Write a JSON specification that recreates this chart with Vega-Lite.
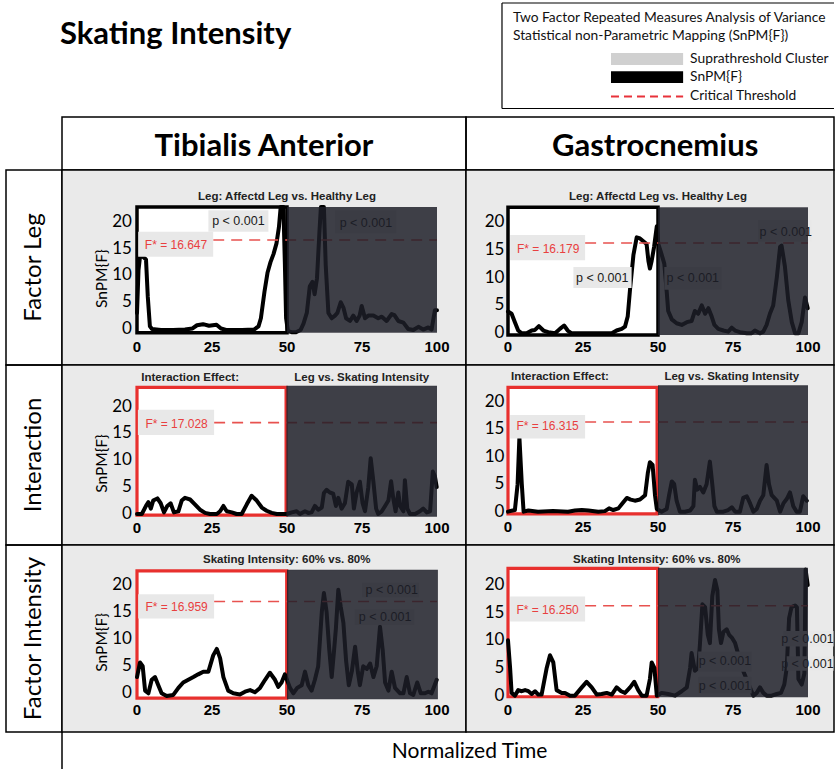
{
  "$schema": "https://vega.github.io/schema/vega-lite/v6.json",
  "padding": 0,
  "background": "#ffffff",
  "config": {"view": {"stroke": null}, "text": {"font": "Lato"}},
  "datasets": {
    "tx": [{"v":0,"t":"0"},{"v":25,"t":"25"},{"v":50,"t":"50"},{"v":75,"t":"75"},{"v":100,"t":"100"}],
    "ty": [{"v":0,"t":"0"},{"v":5,"t":"5"},{"v":10,"t":"10"},{"v":15,"t":"15"},{"v":20,"t":"20"}],
    "c1": [{"x":0,"y":3},{"x":0.5,"y":11},{"x":1,"y":13.5},{"x":2,"y":13.5},{"x":3,"y":13},{"x":3.6,"y":6},{"x":4.3,"y":0.5},{"x":5,"y":0},{"x":8,"y":-0.2},{"x":12,"y":-0.2},{"x":16,"y":-0.1},{"x":18.5,"y":0.1},{"x":20,"y":0.7},{"x":22,"y":0.9},{"x":24,"y":0.6},{"x":26.5,"y":0.8},{"x":28,"y":0.1},{"x":30,"y":-0.2},{"x":35,"y":-0.2},{"x":39,"y":-0.1},{"x":40.5,"y":0.5},{"x":41.3,"y":2},{"x":42.5,"y":7},{"x":43.5,"y":10.5},{"x":44.5,"y":12.5},{"x":45.5,"y":14},{"x":46.5,"y":16},{"x":47.3,"y":19},{"x":47.9,"y":22.8},{"x":48.8,"y":22.8},{"x":49.3,"y":12},{"x":49.7,"y":2},{"x":50.3,"y":-0.4},{"x":51.5,"y":-0.6},{"x":53,"y":-0.6},{"x":54.5,"y":-0.2},{"x":55.5,"y":1},{"x":56.6,"y":3},{"x":57.6,"y":8},{"x":58.5,"y":8.8},{"x":59.2,"y":6.5},{"x":60,"y":9.5},{"x":60.8,"y":18},{"x":61.3,"y":22.8},{"x":62.3,"y":22.8},{"x":62.9,"y":12},{"x":63.8,"y":3},{"x":64.9,"y":2},{"x":66,"y":2.5},{"x":66.8,"y":3},{"x":67.9,"y":5},{"x":68.8,"y":4},{"x":69.7,"y":2},{"x":71,"y":1.5},{"x":72.1,"y":2.5},{"x":73.2,"y":1.5},{"x":74.2,"y":2.5},{"x":74.9,"y":4.3},{"x":76,"y":2},{"x":77.1,"y":2.5},{"x":78.8,"y":2.5},{"x":80.4,"y":2},{"x":81.6,"y":2.3},{"x":83.2,"y":1.5},{"x":84.9,"y":2.8},{"x":85.8,"y":2.6},{"x":87.1,"y":1.5},{"x":88.8,"y":1.2},{"x":90.4,"y":0},{"x":92.1,"y":-0.2},{"x":93.8,"y":0.4},{"x":95.4,"y":-0.1},{"x":97.1,"y":0.3},{"x":98.2,"y":-0.1},{"x":99.3,"y":3.5},{"x":100,"y":3.5}],
    "c2": [{"x":0,"y":3.9},{"x":1.2,"y":3.5},{"x":2.3,"y":2},{"x":3.4,"y":0.5},{"x":4.6,"y":0},{"x":6.2,"y":0},{"x":7.9,"y":0.5},{"x":9,"y":0.6},{"x":10.3,"y":1.3},{"x":11.8,"y":0.5},{"x":13.4,"y":0.2},{"x":15.7,"y":0},{"x":17.3,"y":0.8},{"x":18.7,"y":1.4},{"x":19.9,"y":0.5},{"x":21.2,"y":0},{"x":25,"y":0},{"x":30,"y":0},{"x":34.6,"y":0},{"x":36.2,"y":0.5},{"x":37.9,"y":0.8},{"x":39,"y":1.2},{"x":39.9,"y":3},{"x":40.7,"y":8},{"x":41.8,"y":14},{"x":42.9,"y":17.2},{"x":44,"y":17},{"x":45.1,"y":16.5},{"x":46.2,"y":16},{"x":46.8,"y":13},{"x":47.3,"y":11.6},{"x":47.9,"y":13},{"x":48.7,"y":15.5},{"x":49.6,"y":19.2},{"x":50.1,"y":16},{"x":51,"y":14.5},{"x":52.1,"y":12.5},{"x":52.9,"y":7.5},{"x":53.4,"y":4},{"x":54.6,"y":2.5},{"x":56.2,"y":1.8},{"x":57.9,"y":1.5},{"x":59.6,"y":2},{"x":61.2,"y":2.2},{"x":62.3,"y":4},{"x":63.4,"y":3.5},{"x":64.6,"y":5},{"x":65.7,"y":3.5},{"x":66.8,"y":4.5},{"x":67.9,"y":3},{"x":68.8,"y":1.5},{"x":70.1,"y":0.8},{"x":71.8,"y":0.5},{"x":73.4,"y":0.3},{"x":74.6,"y":1},{"x":75.7,"y":0.5},{"x":77.3,"y":0.2},{"x":79.6,"y":0},{"x":81.2,"y":0},{"x":82.3,"y":0.5},{"x":84,"y":0},{"x":85.1,"y":0.3},{"x":86.2,"y":1.5},{"x":87.3,"y":3.5},{"x":88.4,"y":5},{"x":89.6,"y":10},{"x":90.7,"y":15.5},{"x":91.2,"y":15.7},{"x":92.3,"y":12},{"x":93.4,"y":6},{"x":94.6,"y":2},{"x":95.7,"y":0},{"x":96.8,"y":0},{"x":97.9,"y":2},{"x":99,"y":6.4},{"x":99.9,"y":4.5}],
    "c3": [{"x":0,"y":0},{"x":1.6,"y":0},{"x":3,"y":1.5},{"x":3.8,"y":2.2},{"x":4.6,"y":1},{"x":5.4,"y":2.5},{"x":6.8,"y":2.9},{"x":7.9,"y":2},{"x":9,"y":0.3},{"x":10.1,"y":1.5},{"x":11.2,"y":2},{"x":12.3,"y":0.3},{"x":13.8,"y":0.5},{"x":14.9,"y":2.5},{"x":16,"y":3},{"x":17.7,"y":2.7},{"x":19.3,"y":1.8},{"x":21,"y":0.8},{"x":22.7,"y":0.2},{"x":24.3,"y":0},{"x":26.6,"y":0},{"x":27.7,"y":0.5},{"x":28.8,"y":1.5},{"x":29.9,"y":0.5},{"x":31.6,"y":0.3},{"x":33.2,"y":0},{"x":34.9,"y":0},{"x":36.6,"y":1.8},{"x":38.2,"y":3.4},{"x":39.9,"y":2.5},{"x":41.6,"y":1.2},{"x":43.2,"y":0.6},{"x":44.9,"y":0.2},{"x":46.6,"y":0},{"x":48.2,"y":0},{"x":49.9,"y":0},{"x":51.6,"y":0.3},{"x":53.2,"y":0.5},{"x":54.3,"y":0},{"x":56,"y":0.5},{"x":57.1,"y":0.2},{"x":58.2,"y":0.3},{"x":59.3,"y":1.5},{"x":60.4,"y":0.8},{"x":61.6,"y":1.2},{"x":62.3,"y":3.9},{"x":63.2,"y":4.5},{"x":64.3,"y":4},{"x":65.4,"y":3.8},{"x":66.3,"y":1.5},{"x":67.1,"y":3},{"x":68.2,"y":1},{"x":69.3,"y":2},{"x":70.4,"y":6},{"x":71.6,"y":5.5},{"x":72.3,"y":1},{"x":73.2,"y":4},{"x":74.3,"y":6},{"x":75.2,"y":2},{"x":76,"y":0.5},{"x":77.1,"y":5},{"x":77.9,"y":10.4},{"x":78.8,"y":6},{"x":79.7,"y":1},{"x":80.4,"y":0},{"x":81.6,"y":0.5},{"x":82.7,"y":1.5},{"x":83.8,"y":2.5},{"x":84.7,"y":6.1},{"x":85.4,"y":3},{"x":86.2,"y":0.5},{"x":87.1,"y":4},{"x":87.7,"y":1.5},{"x":88.8,"y":0.5},{"x":89.3,"y":6.3},{"x":90.1,"y":1},{"x":91,"y":0},{"x":92.7,"y":0},{"x":94.3,"y":0.5},{"x":95.4,"y":1},{"x":96.6,"y":0.3},{"x":97.7,"y":0.5},{"x":98.6,"y":7.9},{"x":99.3,"y":7},{"x":99.9,"y":5}],
    "c4": [{"x":0,"y":0},{"x":2.3,"y":0.3},{"x":3.2,"y":5},{"x":3.8,"y":13.5},{"x":4.6,"y":5},{"x":5.2,"y":0},{"x":6.8,"y":0.2},{"x":10,"y":0},{"x":15,"y":0.1},{"x":20,"y":0},{"x":22.3,"y":0.2},{"x":24.6,"y":0.3},{"x":26.8,"y":0.2},{"x":30.1,"y":0},{"x":32.3,"y":0.1},{"x":33.7,"y":0.6},{"x":35.1,"y":0.3},{"x":36.8,"y":0.6},{"x":38.1,"y":1.5},{"x":39.6,"y":2.5},{"x":40.9,"y":2.2},{"x":42.3,"y":2},{"x":44,"y":2.2},{"x":45.7,"y":3},{"x":46.6,"y":7},{"x":47.3,"y":9},{"x":48.2,"y":8.5},{"x":49,"y":3},{"x":49.6,"y":0.5},{"x":51.2,"y":0},{"x":52.9,"y":0.5},{"x":53.7,"y":3},{"x":54.6,"y":5.5},{"x":55.4,"y":5},{"x":56.2,"y":2},{"x":57.3,"y":0},{"x":59,"y":0},{"x":60.7,"y":0.2},{"x":61.8,"y":1},{"x":62.3,"y":5.8},{"x":63.1,"y":4},{"x":64,"y":4.5},{"x":65.1,"y":3.5},{"x":66.2,"y":5},{"x":67.3,"y":9.1},{"x":68.1,"y":5},{"x":68.8,"y":1},{"x":69.6,"y":0},{"x":71.8,"y":0},{"x":73.4,"y":0.3},{"x":74.6,"y":0.8},{"x":75.7,"y":0},{"x":77.3,"y":0},{"x":78.4,"y":2.5},{"x":79.6,"y":2.8},{"x":80.7,"y":1.5},{"x":81.8,"y":0},{"x":82.9,"y":0.5},{"x":84,"y":2},{"x":85.1,"y":3},{"x":86.2,"y":8.5},{"x":87,"y":5},{"x":87.9,"y":3},{"x":89.6,"y":2},{"x":90.7,"y":0},{"x":91.8,"y":1.5},{"x":92.9,"y":2.3},{"x":94,"y":3.5},{"x":95.1,"y":1},{"x":96.2,"y":0},{"x":97.3,"y":0},{"x":98.4,"y":2.8},{"x":99.6,"y":2}],
    "c5": [{"x":0,"y":3},{"x":1,"y":5.7},{"x":1.9,"y":5},{"x":2.7,"y":0.5},{"x":3.8,"y":0},{"x":4.9,"y":2.5},{"x":6,"y":3},{"x":7.1,"y":1.5},{"x":8.2,"y":0},{"x":9.9,"y":-0.5},{"x":12.1,"y":-0.3},{"x":13.8,"y":1},{"x":15.4,"y":2},{"x":17.1,"y":2.5},{"x":18.8,"y":3},{"x":20.4,"y":3.5},{"x":22.1,"y":4},{"x":23.8,"y":4},{"x":25.4,"y":7},{"x":26.6,"y":8.2},{"x":27.7,"y":6.5},{"x":28.8,"y":3},{"x":30.4,"y":0.5},{"x":32.1,"y":0},{"x":34.3,"y":-0.2},{"x":36,"y":0.3},{"x":37.7,"y":0.6},{"x":39.3,"y":0.2},{"x":41,"y":1},{"x":42.7,"y":2.5},{"x":44.3,"y":3.8},{"x":46,"y":2.5},{"x":47.1,"y":1.2},{"x":48.2,"y":2},{"x":49.3,"y":3.5},{"x":51,"y":1},{"x":52.1,"y":0},{"x":53.4,"y":1},{"x":54.9,"y":1.5},{"x":56,"y":4},{"x":57.1,"y":1.5},{"x":58.2,"y":0.5},{"x":59.3,"y":2.5},{"x":60.4,"y":5},{"x":61.6,"y":15},{"x":62.3,"y":18.5},{"x":63.2,"y":15},{"x":64.1,"y":8},{"x":64.9,"y":3},{"x":65.7,"y":8},{"x":66.3,"y":12},{"x":67.1,"y":19.1},{"x":67.9,"y":16},{"x":68.8,"y":13},{"x":69.7,"y":6},{"x":70.6,"y":1.5},{"x":71.6,"y":4},{"x":72.7,"y":8.6},{"x":73.6,"y":4},{"x":74.3,"y":1.5},{"x":75.4,"y":5},{"x":76.6,"y":4.5},{"x":77.7,"y":5.5},{"x":78.8,"y":3},{"x":79.9,"y":5},{"x":81,"y":12.3},{"x":81.9,"y":8},{"x":82.7,"y":2},{"x":83.8,"y":0.5},{"x":84.9,"y":4},{"x":86,"y":1},{"x":87.7,"y":0},{"x":88.8,"y":0},{"x":89.9,"y":3},{"x":91,"y":0},{"x":92.1,"y":-0.3},{"x":93.4,"y":2},{"x":94.6,"y":0},{"x":96,"y":0},{"x":97.1,"y":0.3},{"x":98.2,"y":0},{"x":99.9,"y":2.5}],
    "c6": [{"x":0,"y":10},{"x":0.7,"y":5},{"x":1.2,"y":0.5},{"x":2.3,"y":0},{"x":3.4,"y":1},{"x":4.6,"y":0.8},{"x":5.7,"y":1},{"x":6.8,"y":0.8},{"x":7.9,"y":0.3},{"x":9,"y":0.8},{"x":10.1,"y":0.2},{"x":11.2,"y":0.2},{"x":12.9,"y":5},{"x":14,"y":7.3},{"x":15.1,"y":6},{"x":16.2,"y":1},{"x":17.9,"y":0.5},{"x":19,"y":0.5},{"x":20.7,"y":0},{"x":22.3,"y":0},{"x":24.6,"y":1.5},{"x":26.2,"y":2.5},{"x":27.9,"y":1.5},{"x":29.6,"y":0.2},{"x":31.2,"y":0.3},{"x":32.9,"y":0.5},{"x":34.6,"y":0.2},{"x":36.2,"y":1.5},{"x":37.7,"y":0.8},{"x":39,"y":0.5},{"x":40.7,"y":1.5},{"x":42.1,"y":2.5},{"x":43.4,"y":1},{"x":44.6,"y":0},{"x":46.2,"y":0},{"x":47.3,"y":3},{"x":47.9,"y":6},{"x":48.8,"y":5},{"x":49.6,"y":0},{"x":51.2,"y":0.5},{"x":53.4,"y":0.3},{"x":55.7,"y":0},{"x":57.9,"y":0.8},{"x":59.6,"y":1.5},{"x":60.7,"y":5},{"x":61.2,"y":7.7},{"x":62.3,"y":4.5},{"x":63.4,"y":5},{"x":64,"y":9.5},{"x":64.8,"y":16.5},{"x":65.7,"y":16},{"x":66.6,"y":11},{"x":67.3,"y":9.5},{"x":68.1,"y":18},{"x":69,"y":20.9},{"x":69.8,"y":19},{"x":70.3,"y":12},{"x":71,"y":9.5},{"x":71.8,"y":11.5},{"x":72.9,"y":12},{"x":73.7,"y":11},{"x":74.6,"y":10.5},{"x":75.7,"y":9.5},{"x":77,"y":7},{"x":78,"y":5},{"x":79.5,"y":3},{"x":81,"y":1},{"x":81.8,"y":0},{"x":82.9,"y":0.5},{"x":84,"y":1.5},{"x":85.1,"y":0.5},{"x":86.2,"y":0},{"x":87.9,"y":0},{"x":89.6,"y":0.3},{"x":91,"y":0.5},{"x":92.1,"y":2},{"x":92.9,"y":5},{"x":93.7,"y":14},{"x":94.5,"y":16},{"x":95.7,"y":16.3},{"x":96.3,"y":16},{"x":96.8,"y":3},{"x":97.9,"y":2},{"x":98.8,"y":4},{"x":99.2,"y":22.8},{"x":99.9,"y":20}],
    "p1": [{"x":33.8,"y":20.1,"x1":23.8,"x2":43.8,"y1":18.2,"y2":22.2,"label":"p < 0.001"},{"x":76.3,"y":19.9,"x1":66,"x2":86.5,"y1":17.9,"y2":22.2,"label":"p < 0.001"}],
    "p2": [{"x":31.4,"y":10,"x1":21.8,"x2":41.2,"y1":8.1,"y2":11.9,"label":"p < 0.001"},{"x":61.6,"y":9.9,"x1":52.1,"x2":71.2,"y1":7.8,"y2":11.9,"label":"p < 0.001"},{"x":92.6,"y":18.1,"x1":83.4,"x2":101.2,"y1":16.4,"y2":20.3,"label":"p < 0.001"}],
    "p5": [{"x":84.9,"y":19.1,"x1":75,"x2":94,"y1":17.7,"y2":20.4,"label":"p < 0.001"},{"x":82.7,"y":14.1,"x1":72.5,"x2":92.5,"y1":12.6,"y2":15.5,"label":"p < 0.001"}],
    "p6": [{"x":72.3,"y":6.2,"x1":63.4,"x2":81.2,"y1":4.3,"y2":8,"label":"p < 0.001"},{"x":72.3,"y":1.8,"x1":63.4,"x2":81.2,"y1":0.4,"y2":3.4,"label":"p < 0.001"},{"x":99.8,"y":10.3,"x1":91.8,"x2":108.5,"y1":8.9,"y2":11.7,"label":"p < 0.001"},{"x":99.8,"y":5.8,"x1":92.9,"x2":108.5,"y1":4.5,"y2":7.1,"label":"p < 0.001"}]
  },
  "columns": 4,
  "spacing": 0,
  "bounds": "flush",
  "align": "each",
  "concat": [
    {"width": 6, "height": 117, "data": {"values": []}, "mark": "point"},
    {"width": 56, "height": 117, "data": {"values": []}, "mark": "point"},
    {"width": 404, "height": 117, "data": {"values": [{}]},
     "mark": {"type": "text", "font": "Lato", "fontWeight": "bold", "fontSize": 31, "align": "left", "baseline": "middle", "fill": "#000", "text": "Skating Intensity"},
     "encoding": {"x": {"datum": -0.005, "type": "quantitative", "scale": {"domain": [0, 1], "nice": false, "zero": false}, "axis": null},
                  "y": {"datum": 0.705, "type": "quantitative", "scale": {"domain": [0, 1], "nice": false, "zero": false}, "axis": null}}},
    {"width": 368, "height": 117, "data": {"values": [{}]},
     "layer": [
       {"mark": {"type": "rule", "stroke": "#000", "strokeWidth": 1.2},
        "encoding": {"x": {"datum": 0.0978, "type": "quantitative", "scale": {"domain": [0, 1], "nice": false, "zero": false}, "axis": null}, "x2": {"datum": 1},
                     "y": {"datum": 0.9744, "type": "quantitative", "scale": {"domain": [0, 1], "nice": false, "zero": false}, "axis": null}}},
       {"mark": {"type": "rule", "stroke": "#000", "strokeWidth": 1.2},
        "encoding": {"x": {"datum": 0.0978, "type": "quantitative", "axis": null}, "x2": {"datum": 1}, "y": {"datum": 0.0726, "type": "quantitative", "axis": null}}},
       {"mark": {"type": "rule", "stroke": "#000", "strokeWidth": 1.2},
        "encoding": {"x": {"datum": 0.0978, "type": "quantitative", "axis": null}, "y": {"datum": 0.0726, "type": "quantitative", "axis": null}, "y2": {"datum": 0.9744}}},
       {"mark": {"type": "text", "font": "Lato", "fontSize": 13.8, "align": "left", "baseline": "middle", "fill": "#111", "limit": 320, "text": "Two Factor Repeated Measures Analysis of Variance"},
        "encoding": {"x": {"datum": 0.1277, "type": "quantitative", "axis": null}, "y": {"datum": 0.85, "type": "quantitative", "axis": null}}},
       {"mark": {"type": "text", "font": "Lato", "fontSize": 13.8, "align": "left", "baseline": "middle", "fill": "#111", "text": "Statistical non-Parametric Mapping (SnPM{F})"},
        "encoding": {"x": {"datum": 0.1277, "type": "quantitative", "axis": null}, "y": {"datum": 0.69, "type": "quantitative", "axis": null}}},
       {"mark": {"type": "rect", "fill": "#d0d0d0"},
        "encoding": {"x": {"datum": 0.394, "type": "quantitative", "axis": null}, "x2": {"datum": 0.59}, "y": {"datum": 0.445, "type": "quantitative", "axis": null}, "y2": {"datum": 0.548}}},
       {"mark": {"type": "rect", "fill": "#000"},
        "encoding": {"x": {"datum": 0.394, "type": "quantitative", "axis": null}, "x2": {"datum": 0.59}, "y": {"datum": 0.29, "type": "quantitative", "axis": null}, "y2": {"datum": 0.39}}},
       {"mark": {"type": "rule", "stroke": "#e8323a", "strokeWidth": 2, "strokeDash": [8, 5]},
        "encoding": {"x": {"datum": 0.394, "type": "quantitative", "axis": null}, "x2": {"datum": 0.59}, "y": {"datum": 0.175, "type": "quantitative", "axis": null}}},
       {"mark": {"type": "text", "font": "Lato", "fontSize": 13.8, "align": "left", "baseline": "middle", "fill": "#111", "text": "Suprathreshold Cluster"},
        "encoding": {"x": {"datum": 0.609, "type": "quantitative", "axis": null}, "y": {"datum": 0.496, "type": "quantitative", "axis": null}}},
       {"mark": {"type": "text", "font": "Lato", "fontSize": 13.8, "align": "left", "baseline": "middle", "fill": "#111", "text": "SnPM{F}"},
        "encoding": {"x": {"datum": 0.609, "type": "quantitative", "axis": null}, "y": {"datum": 0.34, "type": "quantitative", "axis": null}}},
       {"mark": {"type": "text", "font": "Lato", "fontSize": 13.8, "align": "left", "baseline": "middle", "fill": "#111", "text": "Critical Threshold"},
        "encoding": {"x": {"datum": 0.609, "type": "quantitative", "axis": null}, "y": {"datum": 0.178, "type": "quantitative", "axis": null}}}
     ]},

    {"width": 6, "height": 53, "data": {"values": []}, "mark": "point"},
    {"width": 56, "height": 53, "data": {"values": []}, "mark": "point"},
    {"width": 404, "height": 53, "view": {"stroke": "#000", "strokeWidth": 1.5}, "data": {"values": [{}]},
     "mark": {"type": "text", "font": "Lato", "fontWeight": "bold", "fontSize": 31, "align": "center", "baseline": "middle", "fill": "#000", "text": "Tibialis Anterior"},
     "encoding": {"x": {"datum": 0.5, "type": "quantitative", "scale": {"domain": [0, 1], "nice": false, "zero": false}, "axis": null},
                  "y": {"datum": 0.44, "type": "quantitative", "scale": {"domain": [0, 1], "nice": false, "zero": false}, "axis": null}}},
    {"width": 368, "height": 53, "view": {"stroke": "#000", "strokeWidth": 1.5}, "data": {"values": [{}]},
     "mark": {"type": "text", "font": "Lato", "fontWeight": "bold", "fontSize": 31, "align": "center", "baseline": "middle", "fill": "#000", "text": "Gastrocnemius"},
     "encoding": {"x": {"datum": 0.514, "type": "quantitative", "scale": {"domain": [0, 1], "nice": false, "zero": false}, "axis": null},
                  "y": {"datum": 0.44, "type": "quantitative", "scale": {"domain": [0, 1], "nice": false, "zero": false}, "axis": null}}},

    {"width": 6, "height": 195, "data": {"values": []}, "mark": "point"},
    {"width": 56, "height": 195, "view": {"stroke": "#000", "strokeWidth": 1.5}, "data": {"values": [{}]},
     "mark": {"type": "text", "font": "Lato", "fontSize": 24, "angle": 270, "align": "center", "baseline": "middle", "fill": "#000", "text": "Factor Leg"},
     "encoding": {"x": {"datum": 0.5, "type": "quantitative", "scale": {"domain": [0, 1], "nice": false, "zero": false}, "axis": null},
                  "y": {"datum": 0.5, "type": "quantitative", "scale": {"domain": [0, 1], "nice": false, "zero": false}, "axis": null}}},
    {"width": 404, "height": 195, "view": {"fill": "#eaeaea", "stroke": "#000", "strokeWidth": 1.5}, "data": {"values": [{}]},
     "layer": [
       {"mark": {"type": "rect", "fill": "#ffffff"},
        "encoding": {"x": {"datum": 0, "type": "quantitative", "scale": {"domain": [-25, 109.667], "nice": false, "zero": false}, "axis": null},
                     "x2": {"datum": 100},
                     "y": {"datum": -0.7, "type": "quantitative", "scale": {"domain": [-6.73, 29.72], "nice": false, "zero": false}, "axis": null},
                     "y2": {"datum": 22.8}}},
       {"mark": {"type": "rect", "filled": false, "stroke": "#000", "strokeWidth": 3.5},
        "encoding": {"x": {"datum": 0, "type": "quantitative", "axis": null}, "x2": {"datum": 50}, "y": {"datum": -0.7, "type": "quantitative", "axis": null}, "y2": {"datum": 22.8}}},
       {"data": {"name": "c1"}, "mark": {"type": "line", "stroke": "#000", "strokeWidth": 4, "strokeJoin": "round", "strokeCap": "round"},
        "encoding": {"x": {"field": "x", "type": "quantitative", "axis": null}, "y": {"field": "y", "type": "quantitative", "axis": null}}},
       {"mark": {"type": "rule", "stroke": "#e8524f", "strokeWidth": 1.6, "strokeDash": [11, 7]},
        "encoding": {"x": {"datum": 25.4, "type": "quantitative", "axis": null}, "x2": {"datum": 100}, "y": {"datum": 16.647, "type": "quantitative", "axis": null}}},
       {"data": {"name": "p1"}, "mark": {"type": "rect", "fill": "#e8e8e8"},
        "encoding": {"x": {"field": "x1", "type": "quantitative", "axis": null}, "x2": {"field": "x2"}, "y": {"field": "y1", "type": "quantitative", "axis": null}, "y2": {"field": "y2"}}},
       {"data": {"name": "p1"}, "mark": {"type": "text", "font": "Liberation Sans", "fontSize": 12.5, "fill": "#1a1a1a", "baseline": "middle"},
        "encoding": {"x": {"field": "x", "type": "quantitative", "axis": null}, "y": {"field": "y", "type": "quantitative", "axis": null}, "text": {"field": "label"}}},
       {"mark": {"type": "rect", "fill": "#1c1d27", "fillOpacity": 0.85},
        "encoding": {"x": {"datum": 50, "type": "quantitative", "axis": null}, "x2": {"datum": 100}, "y": {"datum": -0.7, "type": "quantitative", "axis": null}, "y2": {"datum": 22.8}}},
       {"mark": {"type": "rect", "fill": "#e8e8e8"},
        "encoding": {"x": {"datum": 0.4, "type": "quantitative", "axis": null}, "x2": {"datum": 25.4}, "y": {"datum": 13.5, "type": "quantitative", "axis": null}, "y2": {"datum": 18.2}}},
       {"mark": {"type": "text", "font": "Liberation Sans", "fontSize": 12, "fill": "#e84040", "baseline": "middle", "text": "F* = 16.647"},
        "encoding": {"x": {"datum": 13, "type": "quantitative", "axis": null}, "y": {"datum": 15.7, "type": "quantitative", "axis": null}}},
       {"mark": {"type": "text", "font": "Liberation Sans", "fontWeight": "bold", "fontSize": 11.5, "fill": "#222", "baseline": "middle", "text": "Leg: Affectd Leg vs. Healthy Leg"},
        "encoding": {"x": {"datum": 50, "type": "quantitative", "axis": null}, "y": {"datum": 24.7, "type": "quantitative", "axis": null}}},
       {"mark": {"type": "text", "font": "Lato", "fontSize": 15.5, "angle": 270, "fill": "#000", "baseline": "middle", "text": "SnPM{F}"},
        "encoding": {"x": {"datum": -11.8, "type": "quantitative", "axis": null}, "y": {"datum": 9.4, "type": "quantitative", "axis": null}}},
       {"data": {"name": "tx"}, "mark": {"type": "text", "font": "Liberation Sans", "fontWeight": "bold", "fontSize": 15, "fill": "#000", "align": "center", "baseline": "middle"},
        "encoding": {"x": {"field": "v", "type": "quantitative", "axis": null}, "y": {"datum": -3.3, "type": "quantitative", "axis": null}, "text": {"field": "t"}}},
       {"data": {"name": "ty"}, "mark": {"type": "text", "font": "Lato", "fontSize": 17, "fill": "#000", "align": "right", "baseline": "middle"},
        "encoding": {"x": {"datum": -1.7, "type": "quantitative", "axis": null}, "y": {"field": "v", "type": "quantitative", "axis": null}, "text": {"field": "t"}}}
     ]},
    {"width": 368, "height": 195, "view": {"fill": "#eaeaea", "stroke": "#000", "strokeWidth": 1.5}, "data": {"values": [{}]},
     "layer": [
       {"mark": {"type": "rect", "fill": "#ffffff"},
        "encoding": {"x": {"datum": 0, "type": "quantitative", "scale": {"domain": [-14, 108.667], "nice": false, "zero": false}, "axis": null},
                     "x2": {"datum": 100},
                     "y": {"datum": -0.3, "type": "quantitative", "scale": {"domain": [-5.68, 29.27], "nice": false, "zero": false}, "axis": null},
                     "y2": {"datum": 22.6}}},
       {"mark": {"type": "rect", "filled": false, "stroke": "#000", "strokeWidth": 3.5},
        "encoding": {"x": {"datum": 0, "type": "quantitative", "axis": null}, "x2": {"datum": 50}, "y": {"datum": -0.3, "type": "quantitative", "axis": null}, "y2": {"datum": 22.6}}},
       {"data": {"name": "c2"}, "mark": {"type": "line", "stroke": "#000", "strokeWidth": 4, "strokeJoin": "round", "strokeCap": "round"},
        "encoding": {"x": {"field": "x", "type": "quantitative", "axis": null}, "y": {"field": "y", "type": "quantitative", "axis": null}}},
       {"mark": {"type": "rule", "stroke": "#e8524f", "strokeWidth": 1.6, "strokeDash": [11, 7]},
        "encoding": {"x": {"datum": 25.7, "type": "quantitative", "axis": null}, "x2": {"datum": 100}, "y": {"datum": 16.179, "type": "quantitative", "axis": null}}},
       {"data": {"name": "p2"}, "mark": {"type": "rect", "fill": "#e8e8e8"},
        "encoding": {"x": {"field": "x1", "type": "quantitative", "axis": null}, "x2": {"field": "x2"}, "y": {"field": "y1", "type": "quantitative", "axis": null}, "y2": {"field": "y2"}}},
       {"data": {"name": "p2"}, "mark": {"type": "text", "font": "Liberation Sans", "fontSize": 12.5, "fill": "#1a1a1a", "baseline": "middle"},
        "encoding": {"x": {"field": "x", "type": "quantitative", "axis": null}, "y": {"field": "y", "type": "quantitative", "axis": null}, "text": {"field": "label"}}},
       {"mark": {"type": "rect", "fill": "#1c1d27", "fillOpacity": 0.85},
        "encoding": {"x": {"datum": 50, "type": "quantitative", "axis": null}, "x2": {"datum": 100}, "y": {"datum": -0.3, "type": "quantitative", "axis": null}, "y2": {"datum": 22.6}}},
       {"mark": {"type": "rect", "fill": "#e8e8e8"},
        "encoding": {"x": {"datum": 0.7, "type": "quantitative", "axis": null}, "x2": {"datum": 25.7}, "y": {"datum": 13.1, "type": "quantitative", "axis": null}, "y2": {"datum": 17.6}}},
       {"mark": {"type": "text", "font": "Liberation Sans", "fontSize": 12, "fill": "#e84040", "baseline": "middle", "text": "F* = 16.179"},
        "encoding": {"x": {"datum": 13.4, "type": "quantitative", "axis": null}, "y": {"datum": 15.2, "type": "quantitative", "axis": null}}},
       {"mark": {"type": "text", "font": "Liberation Sans", "fontWeight": "bold", "fontSize": 11.5, "fill": "#222", "baseline": "middle", "text": "Leg: Affectd Leg vs. Healthy Leg"},
        "encoding": {"x": {"datum": 50, "type": "quantitative", "axis": null}, "y": {"datum": 24.5, "type": "quantitative", "axis": null}}},
       {"data": {"name": "tx"}, "mark": {"type": "text", "font": "Liberation Sans", "fontWeight": "bold", "fontSize": 15, "fill": "#000", "align": "center", "baseline": "middle"},
        "encoding": {"x": {"field": "v", "type": "quantitative", "axis": null}, "y": {"datum": -2.4, "type": "quantitative", "axis": null}, "text": {"field": "t"}}},
       {"data": {"name": "ty"}, "mark": {"type": "text", "font": "Lato", "fontSize": 17, "fill": "#000", "align": "right", "baseline": "middle"},
        "encoding": {"x": {"datum": -1.2, "type": "quantitative", "axis": null}, "y": {"field": "v", "type": "quantitative", "axis": null}, "text": {"field": "t"}}}
     ]},

    {"width": 6, "height": 180, "data": {"values": []}, "mark": "point"},
    {"width": 56, "height": 180, "view": {"stroke": "#000", "strokeWidth": 1.5}, "data": {"values": [{}]},
     "mark": {"type": "text", "font": "Lato", "fontSize": 24, "angle": 270, "align": "center", "baseline": "middle", "fill": "#000", "text": "Interaction"},
     "encoding": {"x": {"datum": 0.5, "type": "quantitative", "scale": {"domain": [0, 1], "nice": false, "zero": false}, "axis": null},
                  "y": {"datum": 0.5, "type": "quantitative", "scale": {"domain": [0, 1], "nice": false, "zero": false}, "axis": null}}},
    {"width": 404, "height": 180, "view": {"fill": "#eaeaea", "stroke": "#000", "strokeWidth": 1.5}, "data": {"values": [{}]},
     "layer": [
       {"mark": {"type": "rect", "fill": "#ffffff"},
        "encoding": {"x": {"datum": 0, "type": "quantitative", "scale": {"domain": [-25, 109.667], "nice": false, "zero": false}, "axis": null},
                     "x2": {"datum": 100},
                     "y": {"datum": -0.2, "type": "quantitative", "scale": {"domain": [-5.78, 27.76], "nice": false, "zero": false}, "axis": null},
                     "y2": {"datum": 23.6}}},
       {"mark": {"type": "rect", "filled": false, "stroke": "#e8302e", "strokeWidth": 3.2},
        "encoding": {"x": {"datum": 0, "type": "quantitative", "axis": null}, "x2": {"datum": 49.7}, "y": {"datum": -0.2, "type": "quantitative", "axis": null}, "y2": {"datum": 23.6}}},
       {"data": {"name": "c3"}, "mark": {"type": "line", "stroke": "#000", "strokeWidth": 4, "strokeJoin": "round", "strokeCap": "round"},
        "encoding": {"x": {"field": "x", "type": "quantitative", "axis": null}, "y": {"field": "y", "type": "quantitative", "axis": null}}},
       {"mark": {"type": "rule", "stroke": "#e8524f", "strokeWidth": 1.6, "strokeDash": [11, 7]},
        "encoding": {"x": {"datum": 25.7, "type": "quantitative", "axis": null}, "x2": {"datum": 100}, "y": {"datum": 17.028, "type": "quantitative", "axis": null}}},
       {"mark": {"type": "rect", "fill": "#1c1d27", "fillOpacity": 0.85},
        "encoding": {"x": {"datum": 49.8, "type": "quantitative", "axis": null}, "x2": {"datum": 100}, "y": {"datum": -0.5, "type": "quantitative", "axis": null}, "y2": {"datum": 23.9}}},
       {"mark": {"type": "rect", "fill": "#e8e8e8"},
        "encoding": {"x": {"datum": 0.3, "type": "quantitative", "axis": null}, "x2": {"datum": 25.7}, "y": {"datum": 14.7, "type": "quantitative", "axis": null}, "y2": {"datum": 19.4}}},
       {"mark": {"type": "text", "font": "Liberation Sans", "fontSize": 12, "fill": "#e84040", "baseline": "middle", "text": "F* = 17.028"},
        "encoding": {"x": {"datum": 13.2, "type": "quantitative", "axis": null}, "y": {"datum": 16.7, "type": "quantitative", "axis": null}}},
       {"mark": {"type": "text", "font": "Liberation Sans", "fontWeight": "bold", "fontSize": 11.5, "fill": "#222", "baseline": "middle", "text": "Interaction Effect:"},
        "encoding": {"x": {"datum": 17.7, "type": "quantitative", "axis": null}, "y": {"datum": 25.4, "type": "quantitative", "axis": null}}},
       {"mark": {"type": "text", "font": "Liberation Sans", "fontWeight": "bold", "fontSize": 11.5, "fill": "#222", "baseline": "middle", "text": "Leg vs. Skating Intensity"},
        "encoding": {"x": {"datum": 74.9, "type": "quantitative", "axis": null}, "y": {"datum": 25.4, "type": "quantitative", "axis": null}}},
       {"mark": {"type": "text", "font": "Lato", "fontSize": 15.5, "angle": 270, "fill": "#000", "baseline": "middle", "text": "SnPM{F}"},
        "encoding": {"x": {"datum": -11.8, "type": "quantitative", "axis": null}, "y": {"datum": 9.4, "type": "quantitative", "axis": null}}},
       {"data": {"name": "tx"}, "mark": {"type": "text", "font": "Liberation Sans", "fontWeight": "bold", "fontSize": 15, "fill": "#000", "align": "center", "baseline": "middle"},
        "encoding": {"x": {"field": "v", "type": "quantitative", "axis": null}, "y": {"datum": -2.66, "type": "quantitative", "axis": null}, "text": {"field": "t"}}},
       {"data": {"name": "ty"}, "mark": {"type": "text", "font": "Lato", "fontSize": 17, "fill": "#000", "align": "right", "baseline": "middle"},
        "encoding": {"x": {"datum": -1.7, "type": "quantitative", "axis": null}, "y": {"field": "v", "type": "quantitative", "axis": null}, "text": {"field": "t"}}}
     ]},
    {"width": 368, "height": 180, "view": {"fill": "#eaeaea", "stroke": "#000", "strokeWidth": 1.5}, "data": {"values": [{}]},
     "layer": [
       {"mark": {"type": "rect", "fill": "#ffffff"},
        "encoding": {"x": {"datum": 0, "type": "quantitative", "scale": {"domain": [-14, 108.667], "nice": false, "zero": false}, "axis": null},
                     "x2": {"datum": 100},
                     "y": {"datum": -0.4, "type": "quantitative", "scale": {"domain": [-6.06, 26.67], "nice": false, "zero": false}, "axis": null},
                     "y2": {"datum": 22.6}}},
       {"mark": {"type": "rect", "filled": false, "stroke": "#e8302e", "strokeWidth": 3.2},
        "encoding": {"x": {"datum": 0, "type": "quantitative", "axis": null}, "x2": {"datum": 49.7}, "y": {"datum": -0.4, "type": "quantitative", "axis": null}, "y2": {"datum": 22.6}}},
       {"data": {"name": "c4"}, "mark": {"type": "line", "stroke": "#000", "strokeWidth": 4, "strokeJoin": "round", "strokeCap": "round"},
        "encoding": {"x": {"field": "x", "type": "quantitative", "axis": null}, "y": {"field": "y", "type": "quantitative", "axis": null}}},
       {"mark": {"type": "rule", "stroke": "#e8524f", "strokeWidth": 1.6, "strokeDash": [11, 7]},
        "encoding": {"x": {"datum": 25.7, "type": "quantitative", "axis": null}, "x2": {"datum": 100}, "y": {"datum": 16.315, "type": "quantitative", "axis": null}}},
       {"mark": {"type": "rect", "fill": "#1c1d27", "fillOpacity": 0.85},
        "encoding": {"x": {"datum": 50, "type": "quantitative", "axis": null}, "x2": {"datum": 100}, "y": {"datum": -0.6, "type": "quantitative", "axis": null}, "y2": {"datum": 23}}},
       {"mark": {"type": "rect", "fill": "#e8e8e8"},
        "encoding": {"x": {"datum": 0.7, "type": "quantitative", "axis": null}, "x2": {"datum": 25.7}, "y": {"datum": 13.3, "type": "quantitative", "axis": null}, "y2": {"datum": 17.6}}},
       {"mark": {"type": "text", "font": "Liberation Sans", "fontSize": 12, "fill": "#e84040", "baseline": "middle", "text": "F* = 16.315"},
        "encoding": {"x": {"datum": 13.2, "type": "quantitative", "axis": null}, "y": {"datum": 15.5, "type": "quantitative", "axis": null}}},
       {"mark": {"type": "text", "font": "Liberation Sans", "fontWeight": "bold", "fontSize": 11.5, "fill": "#222", "baseline": "middle", "text": "Interaction Effect:"},
        "encoding": {"x": {"datum": 17.3, "type": "quantitative", "axis": null}, "y": {"datum": 24.4, "type": "quantitative", "axis": null}}},
       {"mark": {"type": "text", "font": "Liberation Sans", "fontWeight": "bold", "fontSize": 11.5, "fill": "#222", "baseline": "middle", "text": "Leg vs. Skating Intensity"},
        "encoding": {"x": {"datum": 74.6, "type": "quantitative", "axis": null}, "y": {"datum": 24.4, "type": "quantitative", "axis": null}}},
       {"data": {"name": "tx"}, "mark": {"type": "text", "font": "Liberation Sans", "fontWeight": "bold", "fontSize": 15, "fill": "#000", "align": "center", "baseline": "middle"},
        "encoding": {"x": {"field": "v", "type": "quantitative", "axis": null}, "y": {"datum": -2.85, "type": "quantitative", "axis": null}, "text": {"field": "t"}}},
       {"data": {"name": "ty"}, "mark": {"type": "text", "font": "Lato", "fontSize": 17, "fill": "#000", "align": "right", "baseline": "middle"},
        "encoding": {"x": {"datum": -1.2, "type": "quantitative", "axis": null}, "y": {"field": "v", "type": "quantitative", "axis": null}, "text": {"field": "t"}}}
     ]},

    {"width": 6, "height": 187, "data": {"values": []}, "mark": "point"},
    {"width": 56, "height": 187, "view": {"stroke": "#000", "strokeWidth": 1.5}, "data": {"values": [{}]},
     "mark": {"type": "text", "font": "Lato", "fontSize": 24, "angle": 270, "align": "center", "baseline": "middle", "fill": "#000", "text": "Factor Intensity"},
     "encoding": {"x": {"datum": 0.5, "type": "quantitative", "scale": {"domain": [0, 1], "nice": false, "zero": false}, "axis": null},
                  "y": {"datum": 0.5, "type": "quantitative", "scale": {"domain": [0, 1], "nice": false, "zero": false}, "axis": null}}},
    {"width": 404, "height": 187, "view": {"fill": "#eaeaea", "stroke": "#000", "strokeWidth": 1.5}, "data": {"values": [{}]},
     "layer": [
       {"mark": {"type": "rect", "fill": "#ffffff"},
        "encoding": {"x": {"datum": 0, "type": "quantitative", "scale": {"domain": [-25, 109.667], "nice": false, "zero": false}, "axis": null},
                     "x2": {"datum": 100},
                     "y": {"datum": -0.9, "type": "quantitative", "scale": {"domain": [-7.14, 27.38], "nice": false, "zero": false}, "axis": null},
                     "y2": {"datum": 22.6}}},
       {"mark": {"type": "rect", "filled": false, "stroke": "#e8302e", "strokeWidth": 3.2},
        "encoding": {"x": {"datum": 0, "type": "quantitative", "axis": null}, "x2": {"datum": 49.9}, "y": {"datum": -0.9, "type": "quantitative", "axis": null}, "y2": {"datum": 22.6}}},
       {"data": {"name": "c5"}, "mark": {"type": "line", "stroke": "#000", "strokeWidth": 4, "strokeJoin": "round", "strokeCap": "round"},
        "encoding": {"x": {"field": "x", "type": "quantitative", "axis": null}, "y": {"field": "y", "type": "quantitative", "axis": null}}},
       {"mark": {"type": "rule", "stroke": "#e8524f", "strokeWidth": 1.6, "strokeDash": [11, 7]},
        "encoding": {"x": {"datum": 25.7, "type": "quantitative", "axis": null}, "x2": {"datum": 100}, "y": {"datum": 16.959, "type": "quantitative", "axis": null}}},
       {"data": {"name": "p5"}, "mark": {"type": "rect", "fill": "#e8e8e8"},
        "encoding": {"x": {"field": "x1", "type": "quantitative", "axis": null}, "x2": {"field": "x2"}, "y": {"field": "y1", "type": "quantitative", "axis": null}, "y2": {"field": "y2"}}},
       {"data": {"name": "p5"}, "mark": {"type": "text", "font": "Liberation Sans", "fontSize": 12.5, "fill": "#1a1a1a", "baseline": "middle"},
        "encoding": {"x": {"field": "x", "type": "quantitative", "axis": null}, "y": {"field": "y", "type": "quantitative", "axis": null}, "text": {"field": "label"}}},
       {"mark": {"type": "rect", "fill": "#1c1d27", "fillOpacity": 0.85},
        "encoding": {"x": {"datum": 50, "type": "quantitative", "axis": null}, "x2": {"datum": 100.3}, "y": {"datum": -1.1, "type": "quantitative", "axis": null}, "y2": {"datum": 22.8}}},
       {"mark": {"type": "rect", "fill": "#e8e8e8"},
        "encoding": {"x": {"datum": 0.4, "type": "quantitative", "axis": null}, "x2": {"datum": 25.7}, "y": {"datum": 13.8, "type": "quantitative", "axis": null}, "y2": {"datum": 18.3}}},
       {"mark": {"type": "text", "font": "Liberation Sans", "fontSize": 12, "fill": "#e84040", "baseline": "middle", "text": "F* = 16.959"},
        "encoding": {"x": {"datum": 13.2, "type": "quantitative", "axis": null}, "y": {"datum": 15.9, "type": "quantitative", "axis": null}}},
       {"mark": {"type": "text", "font": "Liberation Sans", "fontWeight": "bold", "fontSize": 11.5, "fill": "#222", "baseline": "middle", "text": "Skating Intensity: 60% vs. 80%"},
        "encoding": {"x": {"datum": 49.9, "type": "quantitative", "axis": null}, "y": {"datum": 24.6, "type": "quantitative", "axis": null}}},
       {"mark": {"type": "text", "font": "Lato", "fontSize": 15.5, "angle": 270, "fill": "#000", "baseline": "middle", "text": "SnPM{F}"},
        "encoding": {"x": {"datum": -11.8, "type": "quantitative", "axis": null}, "y": {"datum": 9.4, "type": "quantitative", "axis": null}}},
       {"data": {"name": "tx"}, "mark": {"type": "text", "font": "Liberation Sans", "fontWeight": "bold", "fontSize": 15, "fill": "#000", "align": "center", "baseline": "middle"},
        "encoding": {"x": {"field": "v", "type": "quantitative", "axis": null}, "y": {"datum": -3.08, "type": "quantitative", "axis": null}, "text": {"field": "t"}}},
       {"data": {"name": "ty"}, "mark": {"type": "text", "font": "Lato", "fontSize": 17, "fill": "#000", "align": "right", "baseline": "middle"},
        "encoding": {"x": {"datum": -1.7, "type": "quantitative", "axis": null}, "y": {"field": "v", "type": "quantitative", "axis": null}, "text": {"field": "t"}}}
     ]},
    {"width": 368, "height": 187, "view": {"fill": "#eaeaea", "stroke": "#000", "strokeWidth": 1.5}, "data": {"values": [{}]},
     "layer": [
       {"mark": {"type": "rect", "fill": "#ffffff"},
        "encoding": {"x": {"datum": 0, "type": "quantitative", "scale": {"domain": [-14, 108.667], "nice": false, "zero": false}, "axis": null},
                     "x2": {"datum": 100},
                     "y": {"datum": -0.2, "type": "quantitative", "scale": {"domain": [-6.57, 27.23], "nice": false, "zero": false}, "axis": null},
                     "y2": {"datum": 23}}},
       {"mark": {"type": "rect", "filled": false, "stroke": "#e8302e", "strokeWidth": 3.2},
        "encoding": {"x": {"datum": 0, "type": "quantitative", "axis": null}, "x2": {"datum": 49.9}, "y": {"datum": -0.2, "type": "quantitative", "axis": null}, "y2": {"datum": 23}}},
       {"data": {"name": "c6"}, "mark": {"type": "line", "stroke": "#000", "strokeWidth": 4, "strokeJoin": "round", "strokeCap": "round"},
        "encoding": {"x": {"field": "x", "type": "quantitative", "axis": null}, "y": {"field": "y", "type": "quantitative", "axis": null}}},
       {"mark": {"type": "rule", "stroke": "#e8524f", "strokeWidth": 1.6, "strokeDash": [11, 7]},
        "encoding": {"x": {"datum": 25.7, "type": "quantitative", "axis": null}, "x2": {"datum": 100}, "y": {"datum": 16.25, "type": "quantitative", "axis": null}}},
       {"data": {"name": "p6"}, "mark": {"type": "rect", "fill": "#e8e8e8"},
        "encoding": {"x": {"field": "x1", "type": "quantitative", "axis": null}, "x2": {"field": "x2"}, "y": {"field": "y1", "type": "quantitative", "axis": null}, "y2": {"field": "y2"}}},
       {"data": {"name": "p6"}, "mark": {"type": "text", "font": "Liberation Sans", "fontSize": 12.5, "fill": "#1a1a1a", "baseline": "middle"},
        "encoding": {"x": {"field": "x", "type": "quantitative", "axis": null}, "y": {"field": "y", "type": "quantitative", "axis": null}, "text": {"field": "label"}}},
       {"mark": {"type": "rect", "fill": "#1c1d27", "fillOpacity": 0.85},
        "encoding": {"x": {"datum": 50, "type": "quantitative", "axis": null}, "x2": {"datum": 100}, "y": {"datum": -0.3, "type": "quantitative", "axis": null}, "y2": {"datum": 23.1}}},
       {"mark": {"type": "rect", "fill": "#e8e8e8"},
        "encoding": {"x": {"datum": 0.7, "type": "quantitative", "axis": null}, "x2": {"datum": 25.7}, "y": {"datum": 13.4, "type": "quantitative", "axis": null}, "y2": {"datum": 17.9}}},
       {"mark": {"type": "text", "font": "Liberation Sans", "fontSize": 12, "fill": "#e84040", "baseline": "middle", "text": "F* = 16.250"},
        "encoding": {"x": {"datum": 13.2, "type": "quantitative", "axis": null}, "y": {"datum": 15.4, "type": "quantitative", "axis": null}}},
       {"mark": {"type": "text", "font": "Liberation Sans", "fontWeight": "bold", "fontSize": 11.5, "fill": "#222", "baseline": "middle", "text": "Skating Intensity: 60% vs. 80%"},
        "encoding": {"x": {"datum": 49.6, "type": "quantitative", "axis": null}, "y": {"datum": 24.5, "type": "quantitative", "axis": null}}},
       {"data": {"name": "tx"}, "mark": {"type": "text", "font": "Liberation Sans", "fontWeight": "bold", "fontSize": 15, "fill": "#000", "align": "center", "baseline": "middle"},
        "encoding": {"x": {"field": "v", "type": "quantitative", "axis": null}, "y": {"datum": -2.58, "type": "quantitative", "axis": null}, "text": {"field": "t"}}},
       {"data": {"name": "ty"}, "mark": {"type": "text", "font": "Lato", "fontSize": 17, "fill": "#000", "align": "right", "baseline": "middle"},
        "encoding": {"x": {"datum": -1.2, "type": "quantitative", "axis": null}, "y": {"field": "v", "type": "quantitative", "axis": null}, "text": {"field": "t"}}}
     ]},

    {"width": 6, "height": 37, "data": {"values": []}, "mark": "point"},
    {"width": 56, "height": 37, "data": {"values": []}, "mark": "point"},
    {"width": 404, "height": 37, "data": {"values": [{}]},
     "layer": [
       {"mark": {"type": "rule", "stroke": "#000", "strokeWidth": 1.5},
        "encoding": {"x": {"datum": 0, "type": "quantitative", "scale": {"domain": [0, 1], "nice": false, "zero": false}, "axis": null},
                     "y": {"datum": 0, "type": "quantitative", "scale": {"domain": [0, 1], "nice": false, "zero": false}, "axis": null}, "y2": {"datum": 1}}},
       {"mark": {"type": "text", "font": "Lato", "fontSize": 21, "align": "center", "baseline": "middle", "fill": "#000", "text": "Normalized Time"},
        "encoding": {"x": {"datum": 1.009, "type": "quantitative", "axis": null}, "y": {"datum": 0.45, "type": "quantitative", "axis": null}}}
     ]},
    {"width": 368, "height": 37, "data": {"values": []}, "mark": "point"}
  ]
}
